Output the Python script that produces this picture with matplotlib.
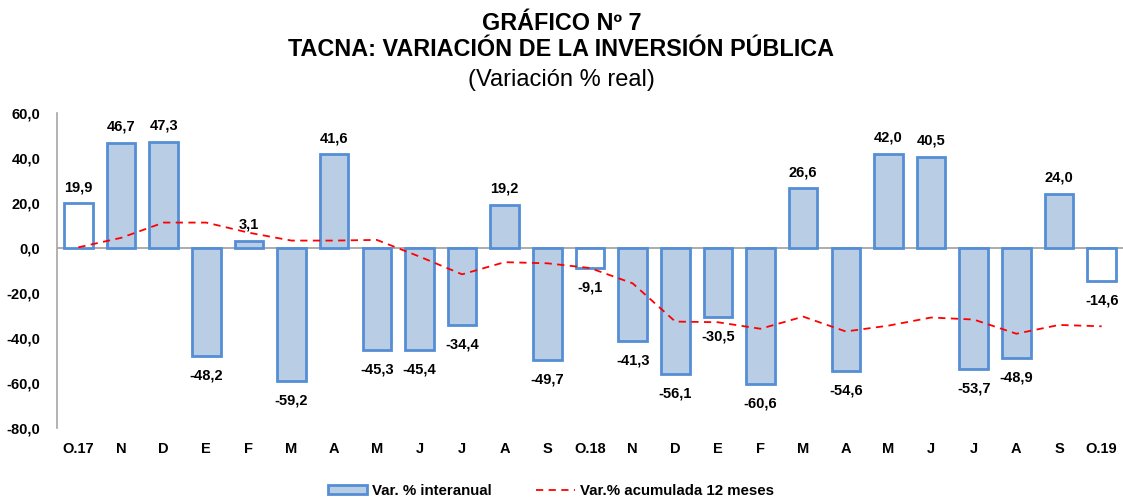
"""Tacna: variación de la inversión pública (Gráfico Nº 7)."""
import numpy as np
import matplotlib
matplotlib.use("Agg")
import matplotlib.pyplot as plt
from matplotlib.patches import Patch
from matplotlib.lines import Line2D

plt.rcParams["font.family"] = ["Liberation Sans", "DejaVu Sans"]

# Data
months = ["O.17", "N", "D", "E", "F", "M", "A", "M", "J", "J", "A", "S",
          "O.18", "N", "D", "E", "F", "M", "A", "M", "J", "J", "A", "S", "O.19"]
var_interanual = [19.9, 46.7, 47.3, -48.2, 3.1, -59.2, 41.6, -45.3, -45.4, -34.4,
                  19.2, -49.7, -9.1, -41.3, -56.1, -30.5, -60.6, 26.6, -54.6,
                  42.0, 40.5, -53.7, -48.9, 24.0, -14.6]
var_acum_12m = [0.3, 4.5, 11.3, 11.3, 6.8, 3.3, 3.3, 3.6, -3.8, -11.7, -6.3, -6.8,
                -8.9, -15.7, -32.7, -33.0, -35.9, -30.5, -37.1, -34.5, -30.9,
                -31.8, -38.1, -34.2, -34.8]
hollow_idx = [0, 12, 24]  # October bars drawn without fill

FILL = "#b9cde5"
EDGE = "#558ed5"
GRID = "#a6a6a6"


def fmt(v):
    return f"{v:.1f}".replace(".", ",")


def main():
    fig = plt.figure(figsize=(11.23, 5.01), dpi=100)
    ax = fig.add_axes([57 / 1123, 1 - 428 / 501, 1 - 57 / 1123, (428 - 113) / 501])

    x = np.arange(len(months))
    fills = ["white" if i in hollow_idx else FILL for i in range(len(months))]
    ax.bar(x, var_interanual, width=0.67, color=fills, edgecolor=EDGE, linewidth=2, zorder=2)
    ax.axhline(0, color=GRID, lw=1.3, zorder=1)
    ax.plot(x, var_acum_12m, color="red", lw=1.3, dashes=(4, 3), zorder=3)

    for xi, v in zip(x, var_interanual):
        off = 6.5 if v >= 0 else -9
        ax.annotate(fmt(v), (xi, v), xytext=(0, off), textcoords="offset points",
                    ha="center", va="bottom" if v >= 0 else "top",
                    fontsize=10.5, fontweight="bold", zorder=4)

    ax.set_xlim(-0.5, len(months) - 0.5)
    ax.set_ylim(-80, 60)
    ax.set_yticks(np.arange(-80, 61, 20))
    ax.set_yticklabels([fmt(t) for t in np.arange(-80, 61, 20)], fontsize=10.5, fontweight="bold")
    ax.set_xticks(x)
    ax.set_xticklabels(months, fontsize=10.5, fontweight="bold")
    ax.tick_params(axis="both", length=0)
    ax.tick_params(axis="x", pad=10)
    ax.tick_params(axis="y", pad=12)
    for s in ["top", "right", "bottom"]:
        ax.spines[s].set_visible(False)
    ax.spines["left"].set_color(GRID)
    ax.spines["left"].set_linewidth(1.2)

    fig.text(0.5, 1 - 23 / 501, "GRÁFICO Nº 7", ha="center", va="center",
             fontsize=16.8, fontweight="bold")
    fig.text(0.5, 1 - 50 / 501, "TACNA: VARIACIÓN DE LA INVERSIÓN PÚBLICA", ha="center",
             va="center", fontsize=16.8, fontweight="bold")
    fig.text(0.5, 1 - 80 / 501, "(Variación % real)", ha="center", va="center", fontsize=17)

    handles = [Patch(facecolor=FILL, edgecolor=EDGE, linewidth=2),
               Line2D([0], [0], color="red", lw=1.3, dashes=(4, 3))]
    fig.legend(handles, ["Var. % interanual", "Var.% acumulada 12 meses"],
               loc="center", bbox_to_anchor=(551 / 1123, 1 - 491 / 501), ncol=2,
               frameon=False, prop={"size": 10.8, "weight": "bold"},
               handlelength=2.6, handleheight=0.5, columnspacing=3.0, handletextpad=0.3)

    fig.savefig("out.png", dpi=100)


if __name__ == "__main__":
    main()
